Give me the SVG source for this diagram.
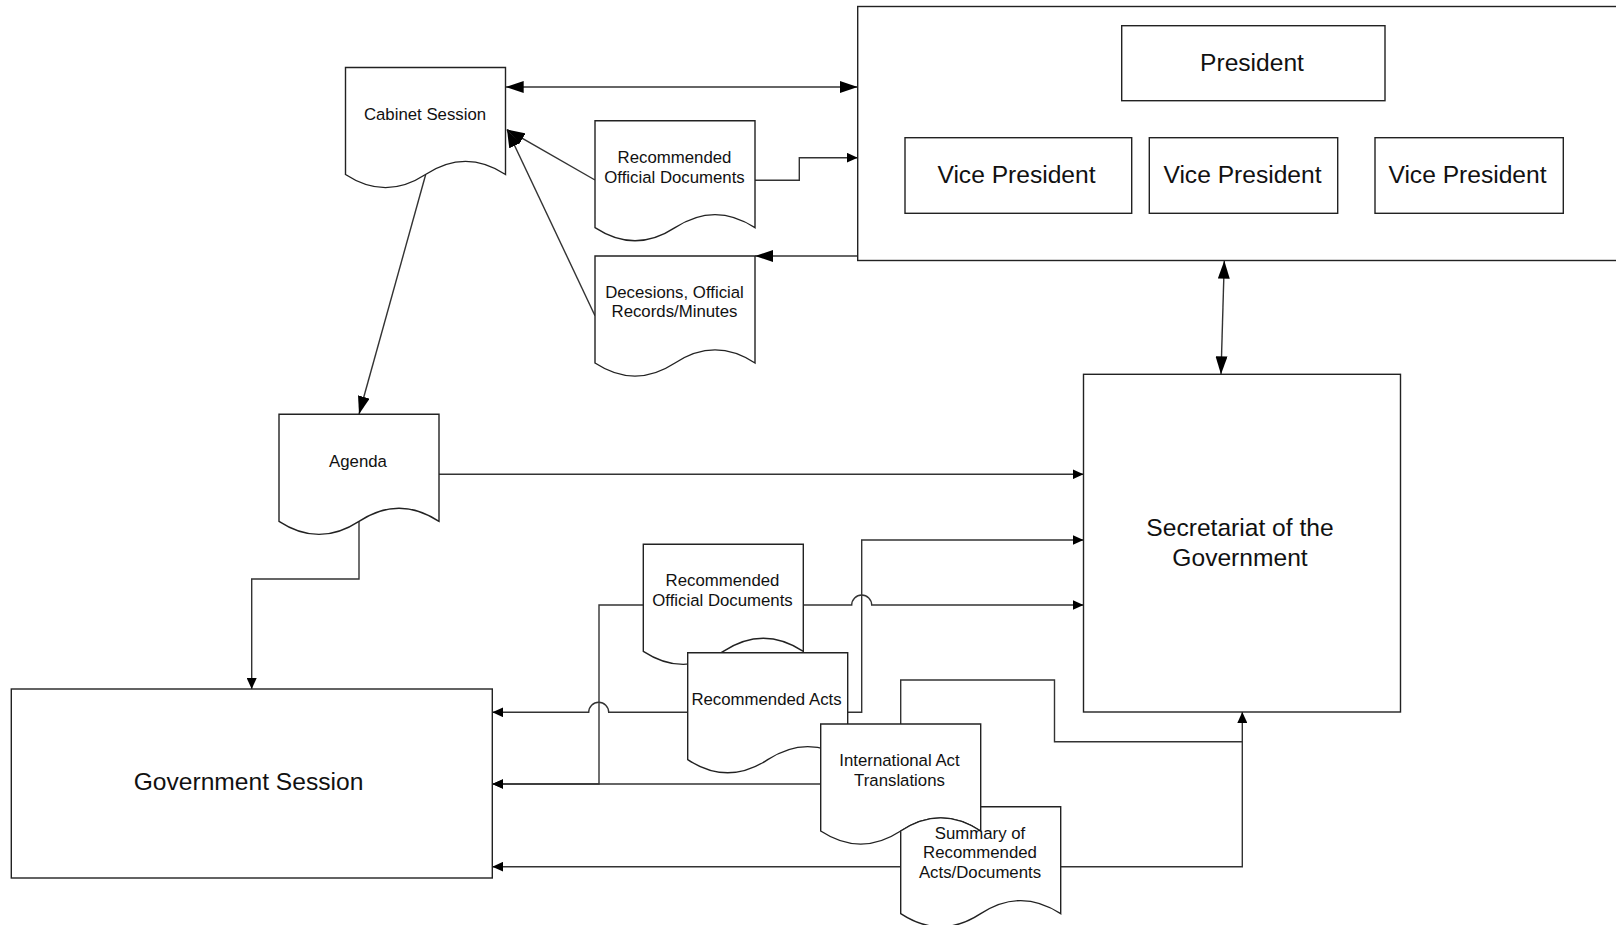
<svg xmlns="http://www.w3.org/2000/svg" width="1616" height="925" viewBox="0 0 1616 925">
<style>
.shape{fill:#fff;stroke:#222;stroke-width:1.4}
.conn{fill:none;stroke:#333;stroke-width:1.4}
.t{font-family:"Liberation Sans",Arial,sans-serif;font-size:16.8px;fill:#111;text-anchor:middle}
.T{font-family:"Liberation Sans",Arial,sans-serif;font-size:24.6px;fill:#111;text-anchor:middle}
</style>
<defs>
<marker id="aL" markerWidth="18" markerHeight="12" refX="18" refY="6" orient="auto-start-reverse" markerUnits="userSpaceOnUse"><path d="M0,0 L18,6 L0,12 z" fill="#000"/></marker>
<marker id="aS" markerWidth="11" markerHeight="10" refX="11" refY="5" orient="auto-start-reverse" markerUnits="userSpaceOnUse"><path d="M0,0 L11,5 L0,10 z" fill="#000"/></marker>
</defs>
<rect width="1616" height="925" fill="#fff"/>

<g id="connectors">
<path class="conn" d="M505.7,87 H857.7" marker-start="url(#aL)" marker-end="url(#aL)"/>
<path class="conn" d="M595,180 L507,129.5" marker-end="url(#aL)"/>
<path class="conn" d="M595,315.7 L507,129.5" marker-end="url(#aL)"/>
<path class="conn" d="M755,180.3 H799.3 V157.7 H857.7" marker-end="url(#aS)"/>
<path class="conn" d="M857.7,256 H755" marker-end="url(#aL)"/>
<path class="conn" d="M425.7,174.5 L359,414.3" marker-end="url(#aL)"/>
<path class="conn" d="M1224.3,260.7 L1221,374.3" marker-start="url(#aL)" marker-end="url(#aL)"/>
<path class="conn" d="M439,474.3 H1083.5" marker-end="url(#aS)"/>
<path class="conn" d="M359,521.3 V579 H251.7 V689" marker-end="url(#aS)"/>
<path class="conn" d="M847.3,712.3 H861.7 V540 H1083.5" marker-end="url(#aS)"/>
<path class="conn" d="M802.7,605 H851.7 A10,10 0 0 1 871.7,605 H1083.5" marker-end="url(#aS)"/>
<path class="conn" d="M643.3,605 H599 V784 H492.3" marker-end="url(#aS)"/>
<path class="conn" d="M687.7,712.3 H608.7 A10,10 0 0 0 588.7,712.3 H492.3" marker-end="url(#aS)"/>
<path class="conn" d="M820.7,784 H492.3" marker-end="url(#aS)"/>
<path class="conn" d="M900.7,866.7 H492.3" marker-end="url(#aS)"/>
<path class="conn" d="M1060.7,866.7 H1242.3 V712" marker-end="url(#aS)"/>
<path class="conn" d="M900.7,724 V680 H1054.5 V741.7 H1242.3"/>
</g>

<g id="presidency">
<rect class="shape" x="857.7" y="6.5" width="800" height="254"/>
</g>
<g id="president">
<rect class="shape" x="1121.7" y="25.7" width="263.3" height="75"/>
<text class="T" x="1252" y="71">President</text>
</g>
<g id="vp1">
<rect class="shape" x="905" y="137.7" width="226.7" height="75.6"/>
<text class="T" x="1016.5" y="182.7">Vice President</text>
</g>
<g id="vp2">
<rect class="shape" x="1149.3" y="137.7" width="188.4" height="75.6"/>
<text class="T" x="1242.5" y="182.7">Vice President</text>
</g>
<g id="vp3">
<rect class="shape" x="1375" y="137.7" width="188.3" height="75.6"/>
<text class="T" x="1467.5" y="182.7">Vice President</text>
</g>

<g id="cabinet">
<path class="shape" d="M345.5,67.5 H505.5 V174.5 C478.8,157 452.2,157 425.5,174.5 C398.8,192 372.2,192 345.5,174.5 Z"/>
<text class="t" x="425" y="120">Cabinet Session</text>
</g>
<g id="rec-docs-top">
<path class="shape" d="M595,120.7 H755 V227.7 C728.3,210.2 701.7,210.2 675,227.7 C648.3,245.2 621.7,245.2 595,227.7 Z"/>
<text class="t" x="674.5" y="162.7">Recommended</text>
<text class="t" x="674.5" y="183.3">Official Documents</text>
</g>
<g id="decisions">
<path class="shape" d="M595,256 H755 V363 C728.3,345.5 701.7,345.5 675,363 C648.3,380.5 621.7,380.5 595,363 Z"/>
<text class="t" x="674.5" y="298.3">Decesions, Official</text>
<text class="t" x="674.5" y="317">Records/Minutes</text>
</g>
<g id="agenda">
<path class="shape" d="M279,414.3 H439 V521.3 C412.3,503.8 385.7,503.8 359,521.3 C332.3,538.8 305.7,538.8 279,521.3 Z"/>
<text class="t" x="358" y="466.7">Agenda</text>
</g>
<g id="secretariat">
<rect class="shape" x="1083.5" y="374.3" width="317" height="337.7"/>
<text class="T" x="1240" y="536.4">Secretariat of the</text>
<text class="T" x="1240" y="566.3">Government</text>
</g>
<g id="gov-session">
<rect class="shape" x="11.3" y="689" width="481" height="189"/>
<text class="T" x="248.5" y="790">Government Session</text>
</g>
<g id="rec-docs-low">
<path class="shape" d="M643.3,544.3 H803.3 V651.3 C776.6,633.8 750,633.8 723.3,651.3 C696.6,668.8 670,668.8 643.3,651.3 Z"/>
<text class="t" x="722.5" y="586">Recommended</text>
<text class="t" x="722.5" y="606">Official Documents</text>
</g>
<g id="rec-acts">
<path class="shape" d="M687.7,652.7 H847.7 V759.7 C821,742.2 794.4,742.2 767.7,759.7 C741,777.2 714.4,777.2 687.7,759.7 Z"/>
<text class="t" x="766.5" y="705">Recommended Acts</text>
</g>
<g id="intl-act">
<path class="shape" d="M820.7,724 H980.7 V831 C954,813.5 927.4,813.5 900.7,831 C874,848.5 847.4,848.5 820.7,831 Z"/>
<text class="t" x="899.5" y="766">International Act</text>
<text class="t" x="899.5" y="785.7">Translations</text>
</g>
<g id="summary">
<path class="shape" d="M900.7,831 C927.4,813.5 954,813.5 980.7,831 V806.7 H1060.7 V913.7 C1034,896.2 1007.4,896.2 980.7,913.7 C954,931.2 927.4,931.2 900.7,913.7 Z"/>
<text class="t" x="980" y="839">Summary of</text>
<text class="t" x="980" y="858.3">Recommended</text>
<text class="t" x="980" y="877.7">Acts/Documents</text>
</g>
</svg>
